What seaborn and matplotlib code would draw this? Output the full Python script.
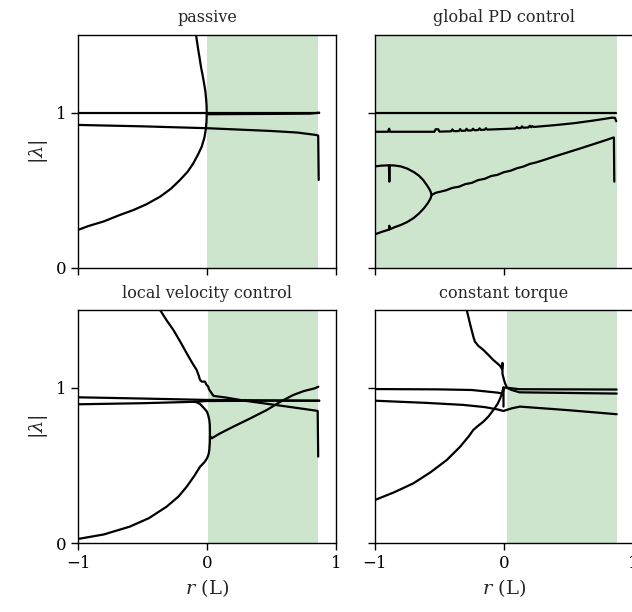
import matplotlib
matplotlib.use("Agg")
import matplotlib.pyplot as plt
import seaborn as sns

# ---- eigenvalue magnitude branches |lambda| versus r (in units of L) ----

# passive
passive_unit_x = [-1.0, 0.87]
passive_unit_y = [1.0, 1.0]
passive_upper_x = [0.0, 0.2, 0.5, 0.8, 0.87]
passive_upper_y = [0.990, 0.991, 0.992, 0.994, 1.0]
passive_mid_x = [-1.0, -0.5, 0.0, 0.5, 0.7, 0.85, 0.862, 0.866]
passive_mid_y = [0.921, 0.912, 0.900, 0.882, 0.872, 0.856, 0.852, 0.567]
passive_fold_x = [-1.0, -0.92, -0.80, -0.68, -0.571, -0.47, -0.364, -0.28, -0.209,
                  -0.15, -0.106, -0.07, -0.041, -0.02, -0.010, -0.004, -0.002,
                  -0.003, -0.006, -0.013, -0.023, -0.036, -0.047, -0.057, -0.067,
                  -0.076, -0.085, -0.10]
passive_fold_y = [0.245, 0.270, 0.300, 0.340, 0.373, 0.410, 0.459, 0.510, 0.567,
                  0.620, 0.674, 0.730, 0.781, 0.840, 0.889, 0.940, 0.996,
                  1.040, 1.080, 1.140, 1.190, 1.250, 1.296, 1.350, 1.400,
                  1.450, 1.500, 1.600]

# global PD control
pd_unit_x = [-1.0, 0.87]
pd_unit_y = [1.0, 1.0]
pd_upper_x = [-1.0, -0.90, -0.89, -0.885, -0.54, -0.53, -0.51, -0.50, -0.41, -0.40,
              -0.39, -0.35, -0.34, -0.33, -0.30, -0.29, -0.28, -0.25, -0.24, -0.23,
              -0.20, -0.19, -0.18, -0.15, -0.14, -0.13, 0.0, 0.09, 0.10, 0.11,
              0.13, 0.14, 0.15, 0.19, 0.20, 0.21, 0.22, 0.23, 0.40, 0.55,
              0.70, 0.84, 0.86, 0.87]
pd_upper_y = [0.877, 0.877, 0.897, 0.877, 0.877, 0.893, 0.893, 0.878, 0.880, 0.892,
              0.881, 0.882, 0.894, 0.883, 0.884, 0.896, 0.885, 0.886, 0.897, 0.887,
              0.888, 0.899, 0.889, 0.890, 0.900, 0.891, 0.895, 0.898, 0.908, 0.900,
              0.901, 0.912, 0.903, 0.905, 0.916, 0.906, 0.914, 0.908, 0.920, 0.933,
              0.950, 0.968, 0.966, 0.945]
pd_bubble_top_x = [-1.0, -0.95, -0.892, -0.889, -0.886, -0.85, -0.80, -0.75, -0.70,
                   -0.66, -0.626, -0.60, -0.58, -0.568, -0.561]
pd_bubble_top_y = [0.654, 0.659, 0.661, 0.556, 0.661, 0.660, 0.654, 0.640, 0.618,
                   0.595, 0.566, 0.536, 0.510, 0.490, 0.470]
pd_bubble_bot_x = [-1.0, -0.95, -0.892, -0.889, -0.886, -0.85, -0.80, -0.75, -0.70,
                   -0.66, -0.62, -0.59, -0.57, -0.561]
pd_bubble_bot_y = [0.217, 0.232, 0.247, 0.272, 0.249, 0.262, 0.277, 0.296, 0.322,
                   0.350, 0.385, 0.418, 0.447, 0.470]
pd_rise_x = [-0.561, -0.53, -0.45, -0.40, -0.35, -0.30, -0.25, -0.20, -0.15, -0.10,
             -0.05, 0.0, 0.05, 0.10, 0.15, 0.20, 0.25, 0.30, 0.40, 0.50, 0.60,
             0.70, 0.80, 0.848, 0.852, 0.855]
pd_rise_y = [0.470, 0.484, 0.500, 0.516, 0.523, 0.540, 0.548, 0.566, 0.574, 0.592,
             0.600, 0.617, 0.626, 0.642, 0.653, 0.670, 0.680, 0.693, 0.720, 0.746,
             0.772, 0.799, 0.826, 0.840, 0.840, 0.556]

# local velocity control
lv_a_x = [-1.0, -0.5, 0.0, 0.5, 0.87]
lv_a_y = [0.938, 0.930, 0.921, 0.918, 0.916]
lv_b_x = [-1.0, -0.5, -0.1, 0.0, 0.5, 0.87]
lv_b_y = [0.893, 0.900, 0.909, 0.914, 0.916, 0.916]
lv_top_x = [-0.40, -0.364, -0.31, -0.261, -0.21, -0.157, -0.115, -0.080, -0.065,
            -0.054, -0.041, -0.015, -0.005, 0.010, 0.015, 0.028, 0.05, 0.15, 0.30,
            0.45, 0.65, 0.845, 0.858, 0.862]
lv_top_y = [1.58, 1.50, 1.43, 1.372, 1.30, 1.221, 1.160, 1.114, 1.080,
            1.050, 1.039, 1.039, 1.020, 1.006, 0.990, 0.974, 0.947, 0.936, 0.915,
            0.898, 0.875, 0.852, 0.850, 0.556]
lv_fold_x = [-1.0, -0.8, -0.6, -0.45, -0.313, -0.22, -0.157, -0.10, -0.054, -0.02,
             0.0, 0.012, 0.018, 0.022, 0.023, 0.022, 0.018, 0.010, 0.0, -0.02,
             -0.054, -0.08, -0.10]
lv_fold_y = [0.026, 0.055, 0.105, 0.160, 0.234, 0.300, 0.363, 0.430, 0.491, 0.520,
             0.545, 0.570, 0.600, 0.650, 0.706, 0.760, 0.792, 0.820, 0.845, 0.865,
             0.895, 0.906, 0.909]
lv_rise_x = [0.023, 0.036, 0.10, 0.204, 0.33, 0.463, 0.57, 0.669, 0.75, 0.837, 0.863]
lv_rise_y = [0.690, 0.674, 0.705, 0.749, 0.800, 0.856, 0.910, 0.953, 0.978, 0.996,
             1.006]

# constant torque
ct_top_x = [-0.31, -0.289, -0.26, -0.235, -0.225, -0.20, -0.16, -0.12, -0.083, -0.05,
            -0.03, -0.015, -0.012, -0.012, 0.0, 0.008, 0.02]
ct_top_y = [1.58, 1.500, 1.400, 1.320, 1.296, 1.270, 1.243, 1.210, 1.178, 1.155,
            1.140, 1.120, 1.160, 1.090, 1.050, 1.028, 1.006]
ct_unit_x = [-1.0, -0.5, -0.25, -0.05, -0.01, 0.0, 0.02, 0.12, 0.5, 0.874]
ct_unit_y = [0.991, 0.989, 0.985, 0.968, 0.962, 1.0, 1.0, 0.990, 0.989, 0.988]
ct_second_x = [0.02, 0.06, 0.12, 0.5, 0.874]
ct_second_y = [1.0, 0.985, 0.970, 0.966, 0.962]
ct_mid_x = [-1.0, -0.6, -0.316, -0.15, -0.05, -0.005, 0.06, 0.124, 0.5, 0.874]
ct_mid_y = [0.916, 0.902, 0.889, 0.875, 0.860, 0.850, 0.867, 0.878, 0.855, 0.829]
ct_fold_x = [-1.0, -0.85, -0.703, -0.57, -0.444, -0.34, -0.27, -0.238, -0.20, -0.160,
             -0.12, -0.083, -0.05, -0.029, -0.015, -0.010, -0.006, -0.004, -0.004]
ct_fold_y = [0.277, 0.327, 0.384, 0.455, 0.534, 0.620, 0.690, 0.728, 0.755, 0.781,
             0.815, 0.856, 0.895, 0.932, 0.965, 0.985, 0.990, 1.003, 0.878]

panels = {
    "passive": [(passive_unit_x, passive_unit_y), (passive_upper_x, passive_upper_y),
                (passive_mid_x, passive_mid_y), (passive_fold_x, passive_fold_y)],
    "global PD control": [(pd_unit_x, pd_unit_y), (pd_upper_x, pd_upper_y),
                          (pd_bubble_top_x, pd_bubble_top_y),
                          (pd_bubble_bot_x, pd_bubble_bot_y), (pd_rise_x, pd_rise_y)],
    "local velocity control": [(lv_a_x, lv_a_y), (lv_b_x, lv_b_y), (lv_top_x, lv_top_y),
                               (lv_fold_x, lv_fold_y), (lv_rise_x, lv_rise_y)],
    "constant torque": [(ct_top_x, ct_top_y), (ct_unit_x, ct_unit_y),
                        (ct_second_x, ct_second_y), (ct_mid_x, ct_mid_y),
                        (ct_fold_x, ct_fold_y)],
}

# stable range of r for each controller
stable_spans = {
    "passive": (0.0, 0.862),
    "global PD control": (-1.0, 0.874),
    "local velocity control": (0.01, 0.862),
    "constant torque": (0.02, 0.874),
}

x_ticks = [-1, 0, 1]
x_tick_labels = ["\u22121", "0", "1"]
y_ticks = [0, 1]
y_tick_labels = ["0", "1"]

sns.set_style("ticks")
plt.rcParams["font.family"] = ["DejaVu Serif"]
plt.rcParams["mathtext.fontset"] = "dejavuserif"
plt.rcParams["axes.linewidth"] = 1.0
plt.rcParams["xtick.major.width"] = 1.0
plt.rcParams["ytick.major.width"] = 1.0
plt.rcParams["xtick.major.size"] = 5
plt.rcParams["ytick.major.size"] = 5

fig, axes = plt.subplots(2, 2, figsize=(6.32, 6.12), dpi=100, sharex=True, sharey=True)

positions = [
    [78 / 632, 1 - 268 / 612, 258 / 632, 233 / 612],
    [375 / 632, 1 - 268 / 612, 258 / 632, 233 / 612],
    [78 / 632, 1 - 543 / 612, 258 / 632, 233 / 612],
    [375 / 632, 1 - 543 / 612, 258 / 632, 233 / 612],
]

for ax, pos, (title, branches) in zip(axes.flat, positions, panels.items()):
    ax.set_position(pos)
    lo, hi = stable_spans[title]
    ax.axvspan(lo, hi, color="green", alpha=0.2, lw=0, zorder=0)
    for bx, by in branches:
        sns.lineplot(x=bx, y=by, ax=ax, sort=False, estimator=None,
                     color="black", lw=1.6, zorder=3)
    ax.set_title(title, fontsize=11.5, pad=9)
    for s in ax.spines.values():
        s.set_color("black")

axes[0, 0].set_xlim(-1, 1)
axes[0, 0].set_ylim(0, 1.5)
for ax in axes.flat:
    ax.set_xticks(x_ticks)
    ax.set_yticks(y_ticks)
    ax.set_xlabel("")
    ax.set_ylabel("")
    ax.tick_params(labelsize=12, colors="black")

for ax in axes[1, :]:
    ax.set_xticklabels(x_tick_labels)
    ax.set_xlabel(r"$r$ (L)", fontsize=14)
for ax in axes[0, :]:
    ax.tick_params(labelbottom=False)
for ax in axes[:, 0]:
    ax.set_yticklabels(y_tick_labels)
    ax.set_ylabel(r"$|\lambda|$", fontsize=14)
for ax in axes[:, 1]:
    ax.tick_params(labelleft=False)

fig.savefig("out.png", dpi=100)
